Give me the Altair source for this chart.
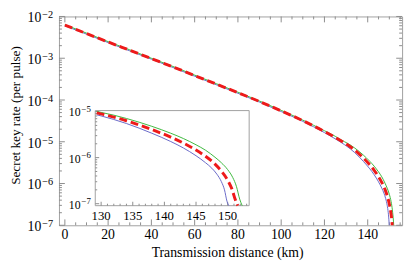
import altair as alt
import pandas as pd

# ---------------- data ----------------
red_km = [0, 10, 20, 30, 40, 50, 60, 70, 80, 90, 100, 110, 120, 125, 129.3, 130, 134, 138, 141, 143, 145,
          146.5, 148, 149, 150, 150.7, 151.2, 151.6]
red_rate = [6.2e-3, 3.9e-3, 2.45e-3, 1.55e-3, 9.8e-4, 6.2e-4, 3.85e-4, 2.4e-4, 1.5e-4, 9.2e-5, 5.5e-5,
            3.2e-5, 1.76e-5, 1.27e-5, 9.38e-6, 8.91e-6, 6.31e-6, 4.07e-6, 2.79e-6, 2.07e-6, 1.46e-6,
            1.07e-6, 7.24e-7, 5.13e-7, 3.24e-7, 2.04e-7, 1.23e-7, 6.0e-8]

green_km = [0, 10, 20, 30, 40, 50, 60, 70, 80, 90, 100, 110, 120, 125, 129.3, 130, 134, 138, 141, 143, 145,
            146.5, 148, 149, 150, 150.8, 151.4, 151.9, 152.3]
green_rate = [6.35e-3, 4.0e-3, 2.5e-3, 1.59e-3, 1.0e-3, 6.35e-4, 3.95e-4, 2.46e-4, 1.54e-4, 9.45e-5, 5.65e-5,
              3.3e-5, 1.84e-5, 1.35e-5, 1.0e-5, 9.6e-6, 7.08e-6, 4.79e-6, 3.39e-6, 2.6e-6, 1.9e-6,
              1.45e-6, 1.02e-6, 7.76e-7, 5.5e-7, 3.72e-7, 2.34e-7, 1.26e-7, 5.6e-8]

blue_km = [0, 10, 20, 30, 40, 50, 60, 70, 80, 90, 100, 110, 120, 125, 129.3, 130, 134, 138, 141, 143, 145,
           146.5, 147.5, 148.3, 149, 149.5, 149.9, 150.2]
blue_rate = [6.0e-3, 3.78e-3, 2.37e-3, 1.5e-3, 9.5e-4, 6.0e-4, 3.72e-4, 2.32e-4, 1.45e-4, 8.9e-5, 5.3e-5,
             3.08e-5, 1.66e-5, 1.175e-5, 8.51e-6, 8.04e-6, 5.5e-6, 3.39e-6, 2.24e-6, 1.62e-6, 1.1e-6,
             7.76e-7, 5.89e-7, 4.37e-7, 3.02e-7, 2.0e-7, 1.12e-7, 5.0e-8]

x_major = [0, 20, 40, 60, 80, 100, 120, 140]
x_minor = [5, 10, 15, 25, 30, 35, 45, 50, 55, 65, 70, 75, 85, 90, 95, 105, 110, 115, 125, 130, 135, 145, 150, 155]
y_major = [1e-7, 1e-6, 1e-5, 1e-4, 1e-3, 1e-2]
y_exp = ["\u22127", "\u22126", "\u22125", "\u22124", "\u22123", "\u22122"]
y_minor = [k * 10.0 ** e for e in range(-7, -2) for k in range(2, 10)]

ix_major = [130, 135, 140, 145, 150]
ix_minor = [131, 132, 133, 134, 136, 137, 138, 139, 141, 142, 143, 144, 146, 147, 148, 149, 151, 152, 153]
iy_major = [1e-7, 1e-6, 1e-5]
iy_exp = ["\u22127", "\u22126", "\u22125"]
iy_minor = [k * 10.0 ** e for e in range(-7, -5) for k in range(2, 10)]

x_title = "Transmission distance (km)"
y_title = "Secret key rate (per pulse)"

# ---------------- styling ----------------
W, H = 350, 213
FONT = "Liberation Serif"
BLUE = "#6868c8"
GREEN = "#3cb83c"
RED = "#ee1a1a"
TICK = "#8c8c8c"
FRAME = "#a0a0a0"

IT, IB, IL, IR = 96, 193, 37, 194   # inset frame inside the plot area (pixels)

xs = alt.Scale(domain=[-2.72, 155.9], nice=False, zero=False)
ys = alt.Scale(type="log", domain=[1e-7, 1e-2], nice=False)
ixs = alt.Scale(domain=[129.07, 153.4], range=[IL, IR], nice=False, zero=False)
iys = alt.Scale(type="log", domain=[9.06e-8, 1.05e-5], range=[IB, IT], nice=False, clamp=True)

df_red = pd.DataFrame({"km": red_km, "rate": red_rate})
df_green = pd.DataFrame({"km": green_km, "rate": green_rate})
df_blue = pd.DataFrame({"km": blue_km, "rate": blue_rate})


def curve_layers(sx, sy, inset=False):
    out = []
    for df, col, w, dash in [(df_blue, BLUE, 1, None), (df_green, GREEN, 1, None), (df_red, RED, 3, [8, 4])]:
        base = alt.Chart(df)
        if inset:
            base = base.transform_filter("datum.km >= 129")
        kw = dict(color=col, strokeWidth=w, interpolate="monotone")
        if dash:
            kw["strokeDash"] = dash
        if not inset:
            kw["clip"] = True
        out.append(base.mark_line(**kw).encode(
            x=alt.X("km:Q", scale=sx, axis=None),
            y=alt.Y("rate:Q", scale=sy, axis=None)))
    return out


def vticks(vals, sx, y0, y1):
    return alt.Chart(pd.DataFrame({"v": vals})).mark_rule(color=TICK, strokeWidth=1).encode(
        x=alt.X("v:Q", scale=sx, axis=None), y=alt.value(y0), y2=alt.value(y1))


def hticks(vals, sy, x0, x1):
    return alt.Chart(pd.DataFrame({"v": vals})).mark_rule(color=TICK, strokeWidth=1).encode(
        y=alt.Y("v:Q", scale=sy, axis=None), x=alt.value(x0), x2=alt.value(x1))


def xlabels(vals, sx, ypix, size):
    df = pd.DataFrame({"v": vals, "t": [str(v) for v in vals]})
    return alt.Chart(df).mark_text(font=FONT, fontSize=size, color="black", baseline="alphabetic",
                                   align="center").encode(
        x=alt.X("v:Q", scale=sx, axis=None), y=alt.value(ypix), text="t:N")


def ylabels(vals, exps, sy, xpix, size, esize, dy_base, dy_exp):
    df = pd.DataFrame({"v": vals, "b": ["10"] * len(vals), "e": exps})
    base = alt.Chart(df).mark_text(font=FONT, fontSize=size, color="black", baseline="alphabetic",
                                   align="right", dy=dy_base).encode(
        y=alt.Y("v:Q", scale=sy, axis=None), x=alt.value(xpix), text="b:N")
    expo = alt.Chart(df).mark_text(font=FONT, fontSize=esize, color="black", baseline="alphabetic",
                                   align="left", dy=dy_exp).encode(
        y=alt.Y("v:Q", scale=sy, axis=None), x=alt.value(xpix + 1), text="e:N")
    return [base, expo]


xt = alt.Chart(pd.DataFrame({"t": [x_title]})).mark_text(
    font=FONT, fontSize=14, color="black", baseline="alphabetic", align="center").encode(
    x=alt.value(172), y=alt.value(245.5), text="t:N")
yt = alt.Chart(pd.DataFrame({"t": [y_title]})).mark_text(
    font=FONT, fontSize=13.5, color="black", baseline="alphabetic", align="center", angle=270).encode(
    x=alt.value(-40), y=alt.value(101), text="t:N")

main = alt.layer(
    vticks(x_major, xs, H, H - 6), vticks(x_minor, xs, H, H - 3),
    vticks(x_major, xs, 0, 6), vticks(x_minor, xs, 0, 3),
    hticks(y_major, ys, 0, 6), hticks(y_minor, ys, 0, 3),
    hticks(y_major, ys, W, W - 6), hticks(y_minor, ys, W, W - 3),
    *curve_layers(xs, ys),
    xlabels(x_major, xs, 226.7, 14),
    *ylabels(y_major, y_exp, ys, -18, 14, 10.5, 6, 2),
    xt, yt,
)

frame = alt.Chart(pd.DataFrame({"a": [0]})).mark_rect(fill="white", stroke=FRAME, strokeWidth=1).encode(
    x=alt.value(IL), x2=alt.value(IR), y=alt.value(IT), y2=alt.value(IB))

inset = alt.layer(
    frame,
    vticks(ix_major, ixs, IB, IB - 4), vticks(ix_minor, ixs, IB, IB - 2),
    hticks(iy_major, iys, IL, IL + 4), hticks(iy_minor, iys, IL, IL + 2),
    *curve_layers(ixs, iys, inset=True),
    xlabels(ix_major, ixs, 207.7, 13),
    *ylabels(iy_major, iy_exp, iys, IL - 15, 12, 9, 5, 0),
)

chart = alt.layer(main, inset).resolve_scale(x="independent", y="independent").properties(
    width=W, height=H, autosize="none",
    padding={"left": 52, "top": 6, "right": 5, "bottom": 45},
    background="white",
).configure_view(stroke=FRAME, strokeWidth=1)

chart.save("out.html", embed_options={"renderer": "svg", "actions": False})
